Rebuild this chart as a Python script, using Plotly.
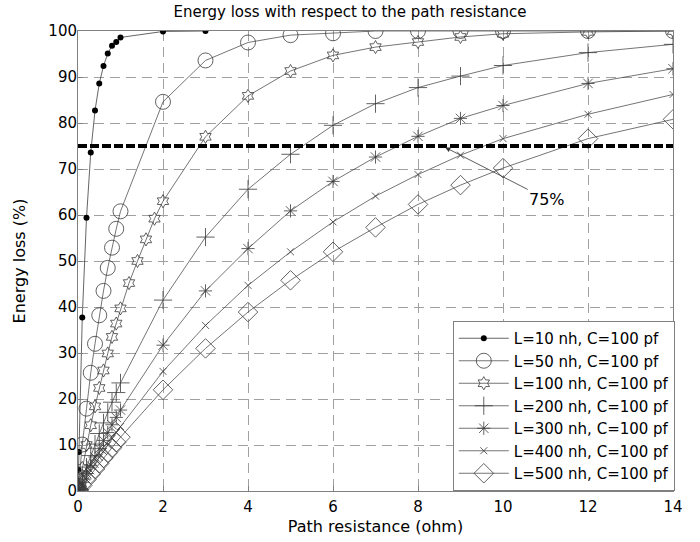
import plotly.graph_objects as go

# ---------------- data ----------------
x_small = [0, 0.01, 0.02, 0.1, 0.2, 0.3, 0.4, 0.5, 0.6, 0.7, 0.8, 0.9, 1.0]
x_large = [2, 3, 4, 5, 6, 7, 8, 9, 10, 12, 14]
x_mid_100 = [1.2, 1.4, 1.6, 1.8]

x_L10 = x_small + [2, 3]
y_L10 = [0, 4.6, 8.5, 37.7, 59.4, 73.6, 82.7, 88.6, 92.4, 95.1, 96.8, 97.6, 98.6, 99.9, 100]

x_L50 = x_small + x_large
y_L50 = [0, 1.1, 2.1, 10.1, 17.9, 25.7, 32.0, 38.2, 43.5, 48.5, 52.9, 57.0, 60.8,
         84.6, 93.6, 97.5, 99.1, 99.5, 100, 100, 100, 100, 100, 100]

x_L100 = x_small + x_mid_100 + x_large
y_L100 = [0, 0.5, 1.0, 5.0, 10.0, 14.3, 18.4, 22.4, 26.2, 29.9, 33.5, 36.4, 39.7,
          45.2, 50.0, 54.7, 59.2,
          63.0, 77.0, 85.9, 91.3, 94.7, 96.5, 97.6, 98.7, 99.4, 99.8, 100]

x_L200 = x_small + x_large
y_L200 = [0, 0.3, 0.5, 2.6, 5.2, 7.7, 10.2, 12.5, 14.8, 17.1, 19.3, 21.4, 23.5,
          41.5, 55.2, 65.6, 73.2, 79.5, 84.2, 87.7, 90.2, 92.5, 95.3, 97.1]

x_L300 = x_small + x_large
y_L300 = [0, 0.2, 0.4, 1.9, 3.8, 5.6, 7.4, 9.2, 11.0, 12.7, 14.4, 16.0, 17.6,
          31.7, 43.5, 52.7, 60.9, 67.3, 72.6, 77.1, 81.0, 83.8, 88.6, 91.8]

x_L400 = x_small + x_large
y_L400 = [0, 0.15, 0.3, 1.5, 3.0, 4.4, 5.8, 7.3, 8.6, 10.0, 11.4, 12.7, 14.0,
          26.0, 36.0, 44.7, 52.0, 58.5, 64.1, 68.8, 73.0, 76.6, 81.9, 86.2]

x_L500 = x_small + x_large
y_L500 = [0, 0.12, 0.25, 1.2, 2.5, 3.7, 4.8, 6.0, 7.2, 8.3, 9.4, 10.6, 11.7,
          22.0, 31.0, 38.9, 45.8, 52.0, 57.3, 62.3, 66.5, 70.2, 76.6, 80.8]

series_names = ["L=10 nh, C=100 pf", "L=50 nh, C=100 pf", "L=100 nh, C=100 pf",
                "L=200 nh, C=100 pf", "L=300 nh, C=100 pf", "L=400 nh, C=100 pf",
                "L=500 nh, C=100 pf"]

threshold = 75
x_ticks = [0, 2, 4, 6, 8, 10, 12, 14]
y_ticks = [0, 10, 20, 30, 40, 50, 60, 70, 80, 90, 100]

# ---------------- styles ----------------
FONT = "DejaVu Sans"
LINE_C = "#3a3a3a"
styles = [
    dict(symbol="circle", size=6, color="black", line=dict(width=0, color="black")),
    dict(symbol="circle-open", size=15, color=LINE_C, line=dict(width=0.8, color=LINE_C)),
    dict(symbol="hexagram-open", size=10, color=LINE_C, line=dict(width=0.8, color=LINE_C)),
    dict(symbol="cross-thin-open", size=13, color=LINE_C, line=dict(width=0.8, color=LINE_C)),
    dict(symbol="asterisk-open", size=11, color=LINE_C, line=dict(width=0.8, color=LINE_C)),
    dict(symbol="x-thin-open", size=7, color=LINE_C, line=dict(width=0.8, color=LINE_C)),
    dict(symbol="diamond-open", size=15, color=LINE_C, line=dict(width=0.8, color=LINE_C)),
]

data = [(x_L10, y_L10), (x_L50, y_L50), (x_L100, y_L100), (x_L200, y_L200),
        (x_L300, y_L300), (x_L400, y_L400), (x_L500, y_L500)]

fig = go.Figure()
for (xs, ys), name, st in zip(data, series_names, styles):
    fig.add_trace(go.Scatter(
        x=xs, y=ys, name=name, mode="lines+markers",
        line=dict(color=LINE_C if name != series_names[0] else "#222", width=0.7),
        marker=st,
    ))

fig.add_shape(type="line", xref="x", yref="y", x0=0, x1=14, y0=threshold, y1=threshold,
              line=dict(color="black", width=4, dash="9px,3px"), layer="above")

fig.add_annotation(x=8.64, y=74.7, xref="x", yref="y", text="75%",
                   showarrow=True, ax=102, ay=52, axref="pixel", ayref="pixel",
                   arrowhead=2, arrowsize=1.3, arrowwidth=0.8, arrowcolor="#333",
                   font=dict(family=FONT, size=16, color="black"))

axis_common = dict(
    showline=True, linecolor="#808080", linewidth=1, mirror=True,
    showgrid=True, gridcolor="#a0a0a0", gridwidth=1, griddash="10px,6px",
    zeroline=False, ticks="inside", ticklen=5, tickcolor="#808080",
    tickfont=dict(family=FONT, size=15, color="black"),
)

fig.update_xaxes(range=[0, 14], tickvals=x_ticks, ticklabelstandoff=2,
                 title=dict(text="Path resistance (ohm)", font=dict(family=FONT, size=16, color="black"), standoff=5),
                 **axis_common)
fig.update_yaxes(range=[0, 100], tickvals=y_ticks, ticklabelstandoff=-3,
                 title=dict(text="Energy loss (%)", font=dict(family=FONT, size=16, color="black"), standoff=18),
                 **axis_common)

fig.update_layout(
    width=700, height=542,
    margin=dict(l=78, r=27, t=31, b=51, autoexpand=False),
    paper_bgcolor="white", plot_bgcolor="white",
    font=dict(family=FONT, color="black"),
    title=dict(text="Energy loss with respect to the path resistance",
               x=0.5, xanchor="center", y=1 - 12 / 542, yanchor="middle", yref="container",
               font=dict(family=FONT, size=15, color="black")),
    legend=dict(x=1.003, y=0, xanchor="right", yanchor="bottom",
                bgcolor="white", bordercolor="#808080", borderwidth=1,
                font=dict(family=FONT, size=15, color="black"),
                itemwidth=50, tracegroupgap=0),
    showlegend=True,
)

# remove the default page margin so the figure starts at the window's corner
fig.write_html("out.html", config={"displayModeBar": False},
               post_script="document.body.style.margin='0px';")
